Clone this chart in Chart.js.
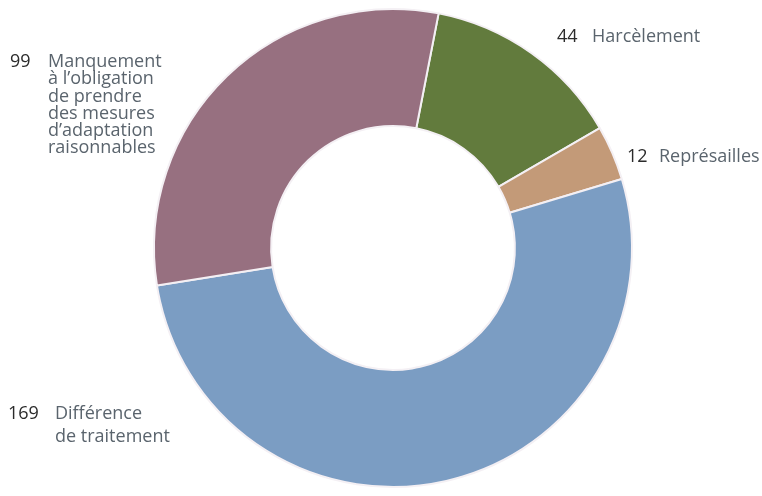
<!DOCTYPE html>
<html>
<head>
<meta charset="utf-8">
<script src="https://cdn.jsdelivr.net/npm/chart.js@4"></script>
<style>
  html, body { margin: 0; padding: 0; background: #fff; }
  #wrap { width: 762px; height: 496px; position: relative; }
</style>
</head>
<body>
<div id="wrap"><canvas id="myDoughnut"></canvas></div>
<script>
// données du graphique (ordre horaire à partir du haut)
var categories = [
  ["Harcèlement"],
  ["Représailles"],
  ["Différence", "de traitement"],
  ["Manquement", "à l’obligation", "de prendre", "des mesures", "d’adaptation", "raisonnables"]
];
var values = [44, 12, 169, 99];
var colors = ["#627b3d", "#c39a78", "#7b9dc3", "#977080"];

// position des étiquettes (nombre, texte, interligne)
var labelSpots = [
  { nx: 557, tx: 592, y: 37, lh: 17 },
  { nx: 627, tx: 659, y: 157, lh: 17 },
  { nx: 8, tx: 55, y: 414, lh: 23 },
  { nx: 10, tx: 48, y: 62, lh: 17.2 }
];

var labelPlugin = {
  id: "sideLabels",
  afterDraw: function (chart) {
    var ctx = chart.ctx;
    ctx.save();
    ctx.font = "18px 'Open Sans', sans-serif";
    ctx.textBaseline = "middle";
    ctx.textAlign = "left";
    values.forEach(function (v, i) {
      var s = labelSpots[i];
      ctx.fillStyle = "#2b2b2b";
      ctx.fillText(String(v), s.nx, s.y);
      ctx.fillStyle = "#5a646d";
      categories[i].forEach(function (line, j) {
        ctx.fillText(line, s.tx, s.y + j * s.lh);
      });
    });
    ctx.restore();
  }
};

var ctx = document.getElementById("myDoughnut").getContext("2d");
var myDoughnut = new Chart(ctx, {
  type: "doughnut",
  data: {
    labels: categories.map(function (c) { return c.join(" "); }),
    datasets: [
      {
        data: values,
        backgroundColor: colors,
        borderColor: "#f4f0f4",
        borderWidth: 2,
      },
    ],
  },
  options: {
    responsive: true,
    maintainAspectRatio: false,
    animation: false,
    rotation: 11,
    cutout: "51%",
    layout: { padding: { top: 8, bottom: 8, left: 24, right: 0 } },
    plugins: {
      legend: { display: false },
      tooltip: { enabled: false },
    },
  },
  plugins: [labelPlugin],
});
</script>
</body>
</html>
